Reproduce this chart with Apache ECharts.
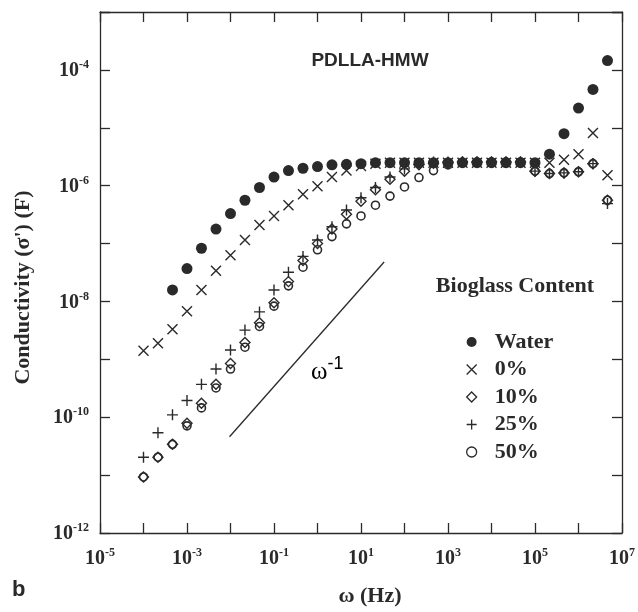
<!DOCTYPE html>
<html><head><meta charset="utf-8">
<script src="https://cdn.jsdelivr.net/npm/echarts@6/dist/echarts.min.js"></script>
<style>html,body{margin:0;padding:0;background:#fff}#c{width:638px;height:612px}</style>
</head><body><div id="c"></div>
<script>
// Frequencies (Hz)
const freq = [1.00e-4, 2.15e-4, 4.64e-4, 1.00e-3, 2.15e-3, 4.64e-3, 1.00e-2, 2.15e-2, 4.64e-2,
  0.1, 0.215, 0.464, 1, 2.15, 4.64, 10, 21.5, 46.4, 100, 215, 464,
  1e3, 2.15e3, 4.64e3, 1e4, 2.15e4, 4.64e4, 1e5, 2.15e5, 4.64e5, 1e6, 2.15e6, 4.64e6];

// Conductivity values
const water = [null, null, 1.58e-8, 3.7e-8, 8.3e-8, 1.78e-7, 3.3e-7, 5.6e-7, 9.3e-7, 1.41e-6,
  1.82e-6, 2.0e-6, 2.14e-6, 2.29e-6, 2.34e-6, 2.4e-6,
  2.5e-6, 2.5e-6, 2.5e-6, 2.5e-6, 2.5e-6, 2.5e-6, 2.5e-6, 2.5e-6, 2.5e-6, 2.5e-6, 2.5e-6, 2.5e-6,
  3.5e-6, 7.9e-6, 2.19e-5, 4.6e-5, 1.45e-4];
const bg0 = [1.41e-9, 1.9e-9, 3.3e-9, 6.8e-9, 1.58e-8, 3.4e-8, 6.3e-8, 1.15e-7, 2.1e-7, 3.0e-7,
  4.6e-7, 7.1e-7, 9.8e-7, 1.41e-6, 1.82e-6, 2.19e-6, 2.4e-6,
  2.5e-6, 2.5e-6, 2.5e-6, 2.5e-6, 2.5e-6, 2.5e-6, 2.5e-6, 2.5e-6, 2.5e-6, 2.5e-6, 2.5e-6, 2.5e-6,
  2.8e-6, 3.5e-6, 8.1e-6, 1.51e-6];
const bg10 = [9.3e-12, 2.04e-11, 3.4e-11, 7.9e-11, 1.74e-10, 3.7e-10, 8.5e-10, 1.95e-9, 4.3e-9, 9.5e-9,
  2.2e-8, 5.1e-8, 1.0e-7, 1.78e-7, 3.2e-7, 5.4e-7, 8.5e-7, 1.29e-6, 1.78e-6, 2.29e-6, 2.45e-6, 2.5e-6,
  2.57e-6, 2.57e-6, 2.57e-6, 2.57e-6, 2.57e-6,
  1.78e-6, 1.62e-6, 1.66e-6, 1.74e-6, 2.4e-6, 5.6e-7];
const bg25 = [2.04e-11, 5.4e-11, 1.1e-10, 1.95e-10, 3.7e-10, 6.8e-10, 1.45e-9, 3.2e-9, 6.6e-9, 1.58e-8,
  3.2e-8, 6.0e-8, 1.15e-7, 1.95e-7, 3.8e-7, 6.2e-7, 9.3e-7, 1.41e-6, 1.95e-6, 2.34e-6,
  2.57e-6, 2.57e-6, 2.57e-6, 2.57e-6, 2.57e-6, 2.57e-6, 2.57e-6,
  1.78e-6, 1.62e-6, 1.66e-6, 1.74e-6, 2.4e-6, 4.9e-7];
const bg50 = [9.3e-12, 2.04e-11, 3.4e-11, 7.1e-11, 1.45e-10, 3.2e-10, 6.8e-10, 1.62e-9, 3.7e-9, 8.3e-9,
  1.86e-8, 3.9e-8, 7.8e-8, 1.32e-7, 2.19e-7, 3.0e-7, 4.6e-7, 6.6e-7, 9.5e-7, 1.38e-6, 1.82e-6, 2.29e-6, 2.5e-6,
  2.57e-6, 2.57e-6, 2.57e-6, 2.57e-6,
  1.78e-6, 1.62e-6, 1.66e-6, 1.74e-6, 2.4e-6, 5.6e-7];

// omega^-1 guide line end points
const slopeX = [0.0095, 34];
const slopeY = [4.6e-11, 4.8e-8];

const xLabelExps = [-5, -3, -1, 1, 3, 5, 7];
const yLabelExps = [-12, -10, -8, -6, -4];
const legendNames = ['Water', '0%', '10%', '25%', '50%'];

const INK = '#2a2a2a';
const SERIF = '"Liberation Serif", "DejaVu Serif", serif';
const SANS = '"Liberation Sans", Arial, sans-serif';

function pairs(vals) {
  const out = [];
  vals.forEach((v, i) => { if (v != null) out.push([freq[i], v]); });
  return out;
}
function supFmt(list) {
  return function (v) {
    const e = Math.round(Math.log10(v));
    return list.indexOf(e) >= 0 ? '{b|10}{s|' + e + '}' : '';
  };
}
const rich = {
  b: { fontFamily: SERIF, fontSize: 20, fontWeight: 'bold', color: INK, lineHeight: 22, verticalAlign: 'bottom' },
  s: { fontFamily: SERIF, fontSize: 12, fontWeight: 'bold', color: INK, lineHeight: 12, verticalAlign: 'top' }
};

const axisLine = { show: true, lineStyle: { color: INK, width: 1.3 } };
const axisTick = { show: true, inside: true, length: 10, lineStyle: { color: INK, width: 1.3 } };

const chart = echarts.init(document.getElementById('c'), null, { renderer: 'canvas' });
const openStyle = { color: 'rgba(0,0,0,0)', borderColor: INK, borderWidth: 1.4, opacity: 1 };

chart.setOption({
  animation: false,
  backgroundColor: '#fff',
  grid: { left: 100, right: 14, top: 12, bottom: 79, containLabel: false },
  xAxis: [{
    type: 'log', logBase: 10, min: 1e-5, max: 1e7, interval: 1,
    axisLine, axisTick, splitLine: { show: false },
    axisLabel: { formatter: supFmt(xLabelExps), rich, margin: 14 },
    name: 'ω (Hz)', nameLocation: 'middle', nameGap: 52,
    nameTextStyle: { fontFamily: SERIF, fontSize: 22, fontWeight: 'bold', color: INK, padding: [0, 0, 0, 18] }
  }, {
    type: 'log', logBase: 10, min: 1e-5, max: 1e7, interval: 1, position: 'top',
    axisLine, axisTick, splitLine: { show: false }, axisLabel: { show: false }
  }],
  yAxis: [{
    type: 'log', logBase: 10, min: 1e-12, max: 1e-3, interval: 1,
    axisLine, axisTick, splitLine: { show: false },
    axisLabel: { formatter: supFmt(yLabelExps), rich, margin: 11 },
    name: "Conductivity (σ') (F)", nameLocation: 'middle', nameGap: 66, nameRotate: 90,
    nameTextStyle: { fontFamily: SERIF, fontSize: 22, fontWeight: 'bold', color: INK, padding: [0, 30, 0, 0] }
  }, {
    type: 'log', logBase: 10, min: 1e-12, max: 1e-3, interval: 1, position: 'right',
    axisLine, axisTick, splitLine: { show: false }, axisLabel: { show: false }
  }],
  legend: {
    data: legendNames, orient: 'vertical', left: 461, top: 326,
    itemWidth: 10, itemHeight: 10, itemGap: 5.5,
    itemStyle: { borderWidth: 1.3 },
    textStyle: { fontFamily: SERIF, fontSize: 22, fontWeight: 'bold', color: INK, lineHeight: 22, padding: [0, 0, 0, 13] },
    selectedMode: false
  },
  graphic: [
    { type: 'text', x: 370, y: 61, style: { text: 'PDLLA-HMW', font: 'bold 19px ' + SANS, fill: INK, align: 'center', verticalAlign: 'middle' } },
    { type: 'text', x: 515, y: 286, style: { text: 'Bioglass Content', font: 'bold 22px ' + SERIF, fill: INK, align: 'center', verticalAlign: 'middle' } },
    { type: 'text', x: 12, y: 590, style: { text: 'b', font: 'bold 22px ' + SANS, fill: INK, align: 'left', verticalAlign: 'middle' } },
    { type: 'text', x: 311, y: 355, style: {
        text: '{w|ω}{s|-1}', rich: {
          w: { fontFamily: SERIF, fontSize: 25, color: INK, lineHeight: 30, verticalAlign: 'bottom' },
          s: { fontFamily: SANS, fontSize: 18, color: INK, lineHeight: 18, verticalAlign: 'top' }
        } } }
  ],
  series: [
    { name: 'omega', type: 'line', data: [[slopeX[0], slopeY[0]], [slopeX[1], slopeY[1]]],
      symbol: 'none', lineStyle: { color: INK, width: 1.3 }, silent: true, z: 1 },
    { name: '50%', type: 'scatter', data: pairs(bg50), symbol: 'circle', symbolSize: 8,
      itemStyle: { color: 'rgba(0,0,0,0)', borderColor: INK, borderWidth: 1.6, opacity: 1 } },
    { name: '25%', type: 'scatter', data: pairs(bg25), symbol: 'path://M5,0L5,10M0,5L10,5', symbolSize: 11,
      itemStyle: openStyle },
    { name: '10%', type: 'scatter', data: pairs(bg10), symbol: 'diamond', symbolSize: 10,
      itemStyle: openStyle },
    { name: '0%', type: 'scatter', data: pairs(bg0), symbol: 'path://M0,0L10,10M0,10L10,0', symbolSize: 10,
      itemStyle: openStyle },
    { name: 'Water', type: 'scatter', data: pairs(water), symbol: 'circle', symbolSize: 11,
      itemStyle: { color: INK, opacity: 1 } }
  ]
});
</script>
</body></html>
